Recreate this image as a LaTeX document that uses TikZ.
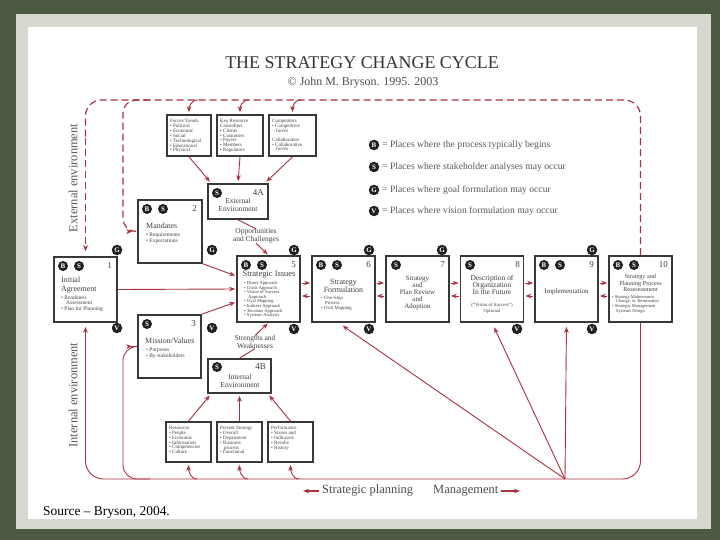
\documentclass[tikz,border=0pt]{standalone}
\usepackage{fontspec}
\setmainfont{Liberation Serif}
\usetikzlibrary{arrows.meta,calc}
\definecolor{cRed}{HTML}{A83240}
\definecolor{bgGreen}{HTML}{4C5A42}
\definecolor{frameGrey}{HTML}{D8D8D0}
\newcommand{\fs}[2]{\fontsize{#1}{#2}\selectfont}
\begin{document}
\begin{tikzpicture}[x=1bp,y=-1bp,
  box/.style={draw=black!78, line width=1.7bp, fill=white, inner sep=0pt},
  badge/.style={circle, fill=black!88, text=white, inner sep=0pt, minimum size=10bp, font=\fs{7}{7}\bfseries},
  gv/.style={badge, minimum size=10.5bp},
  num/.style={anchor=east, inner sep=0pt, font=\fs{9}{9}, text=black!75},
  head/.style={inner sep=0pt, align=center, text=black!75},
  list/.style={anchor=north west, inner sep=0pt, align=left, text=black!75},
  rl/.style={draw=cRed, line width=0.9bp},
  arr/.style={rl, -{Stealth[length=6bp,width=4.5bp]}},
  dl/.style={draw=cRed, line width=1.2bp, dash pattern=on 7bp off 4bp, -{Stealth[length=6bp,width=5bp]}},
  legtxt/.style={anchor=west, inner sep=0pt, font=\fs{9.7}{10}, text=black!65},
]
\useasboundingbox (0,0) rectangle (720,540);
\fill[bgGreen] (0,0) rectangle (720,540);
\fill[frameGrey] (16,14) rectangle (711,529);
\fill[white] (28,27) rectangle (697,519);

% title
\node[font=\fs{18}{18}, text=black!80] (title) at (362,63) {THE STRATEGY CHANGE CYCLE};
\node[font=\fs{12}{12}, text=black!70] (subt) at (363,83) {© John M. Bryson. 1995. 2003};

% side labels
\node[rotate=90, font=\fs{12.5}{13}, text=black!65] (ext) at (73,178) {External environment};
\node[rotate=90, font=\fs{12.5}{13}, text=black!65] (int) at (73,395) {Internal environment};

% boxes
\node[box, minimum width=63bp, minimum height=65bp] (b1) at (85.5,289.5) {};
\node[box, minimum width=64bp, minimum height=63bp] (b2) at (170,231.5) {};
\node[box, minimum width=63bp, minimum height=63bp] (b3) at (169.5,346.5) {};
\node[box, minimum width=60bp, minimum height=35bp] (b4a) at (238,201.5) {};
\node[box, minimum width=63bp, minimum height=34bp] (b4b) at (239.5,376) {};
\node[box, minimum width=63bp, minimum height=66bp] (b5) at (268.5,289) {};
\node[box, minimum width=63bp, minimum height=66bp] (b6) at (343.5,289) {};
\node[box, minimum width=63bp, minimum height=66bp] (b7) at (417.5,289) {};
\node[box, minimum width=63bp, minimum height=66bp] (b8) at (492,289) {};
\node[box, minimum width=63bp, minimum height=66bp] (b9) at (566.5,289) {};
\node[box, minimum width=63bp, minimum height=66bp] (b10) at (640.5,289) {};
\node[box, minimum width=44bp, minimum height=41bp] (tA) at (189,135.5) {};
\node[box, minimum width=46bp, minimum height=41bp] (tB) at (240,135.5) {};
\node[box, minimum width=47bp, minimum height=41bp] (tC) at (292.5,135.5) {};
\node[box, minimum width=45bp, minimum height=40bp] (bA) at (188.5,442) {};
\node[box, minimum width=45bp, minimum height=40bp] (bB) at (239.5,442) {};
\node[box, minimum width=45bp, minimum height=40bp] (bC) at (290.5,442) {};

% badges and numbers
\node[badge] (b1B) at (63,266) {B}; \node[badge] (b1S) at (79,266) {S}; \node[num] (b1n) at (112,266) {1};
\node[badge] (b2B) at (147,209) {B}; \node[badge] (b2S) at (163,209) {S}; \node[num] (b2n) at (197,209) {2};
\node[badge] (b3S) at (147,324) {S}; \node[num] (b3n) at (196,324) {3};
\node[badge] (b4aS) at (217,193) {S}; \node[num] (b4an) at (264,193) {4A};
\node[badge] (b4bS) at (217,367) {S}; \node[num] (b4bn) at (266,367) {4B};
\node[badge] (b5B) at (246,265) {B}; \node[badge] (b5S) at (262,265) {S}; \node[num] (b5n) at (296,265) {5};
\node[badge] (b6B) at (321,265) {B}; \node[badge] (b6S) at (337,265) {S}; \node[num] (b6n) at (371,265) {6};
\node[badge] (b7S) at (396,265) {S}; \node[num] (b7n) at (445,265) {7};
\node[badge] (b8S) at (470,265) {S}; \node[num] (b8n) at (520,265) {8};
\node[badge] (b9B) at (544,265) {B}; \node[badge] (b9S) at (560,265) {S}; \node[num] (b9n) at (594,265) {9};
\node[badge] (b10B) at (618,265) {B}; \node[badge] (b10S) at (634,265) {S}; \node[num] (b10n) at (668,265) {10};

% G and V badges
\node[gv] (g1) at (117,250) {G}; \node[gv] (g2) at (212,250) {G}; \node[gv] (g3) at (294,250) {G};
\node[gv] (g4) at (369,250) {G}; \node[gv] (g5) at (442,250) {G}; \node[gv] (g6) at (592,250) {G};
\node[gv] (v1) at (117,328) {V}; \node[gv] (v2) at (212,328) {V}; \node[gv] (v3) at (294,329) {V};
\node[gv] (v4) at (369,329) {V}; \node[gv] (v5) at (517,329) {V}; \node[gv] (v6) at (592,329) {V};

% legend
\node[gv] (lB) at (374,145) {B}; \node[legtxt] (lBt) at (382,145) {= Places where the process typically begins};
\node[gv] (lS) at (374,167) {S}; \node[legtxt] (lSt) at (382,167) {= Places where stakeholder analyses may occur};
\node[gv] (lG) at (374,190) {G}; \node[legtxt] (lGt) at (382,190) {= Places where goal formulation may occur};
\node[gv] (lV) at (374,211) {V}; \node[legtxt] (lVt) at (382,211) {= Places where vision formulation may occur};

% box texts
\node[list, font=\fs{8}{8.5}] (t1) at (61,277) {Initial\\Agreement};
\node[list, font=\fs{5.5}{5.6}] (t1b) at (61,295) {• Readiness\\\hspace*{5bp}Assessment\\• Plan for Planning};
\node[list, font=\fs{8}{8.5}] (t2) at (146,223) {Mandates};
\node[list, font=\fs{5.5}{5.8}] (t2b) at (146,233) {• Requirements\\• Expectations};
\node[list, font=\fs{8}{8.5}] (t3) at (145,338) {Mission/Values};
\node[list, font=\fs{5.5}{5.8}] (t3b) at (146,348) {• Purposes\\• By stakeholders};
\node[head, font=\fs{7.5}{7.5}] (t4a) at (238,205) {External\\Environment};
\node[head, font=\fs{7.5}{7.5}] (t4b) at (240,381) {Internal\\Environment};
\node[head, font=\fs{8.5}{8.5}] (t5) at (269,275) {Strategic Issues};
\node[list, font=\fs{4.6}{4.65}] (t5b) at (244,281) {• Direct Approach\\• Goals Approach\\• Vision of Success\\\hspace*{4bp}Approach\\• Oval Mapping\\• Indirect Approach\\• Tensions Approach\\• Systems Analysis};
\node[head, font=\fs{8}{7.8}] (t6) at (343.5,286) {Strategy\\Formulation};
\node[list, font=\fs{4.8}{5}] (t6b) at (321,296) {• Five-Step\\\hspace*{4bp}Process\\• Oval Mapping};
\node[head, font=\fs{7}{7.2}] (t7) at (417.5,293) {Strategy\\and\\Plan Review\\and\\Adoption};
\node[head, font=\fs{7.5}{7}] (t8) at (492,285) {Description of\\Organization\\In the Future};
\node[head, font=\fs{4.8}{5.8}] (t8b) at (492,308) {(“Vision of Success”)\\Optional};
\node[head, font=\fs{7}{7}] (t9) at (566.5,292) {Implementation};
\node[head, font=\fs{6.2}{6.5}] (t10) at (640.5,283) {Strategy and\\Planning Process\\Reassessment};
\node[list, font=\fs{4.5}{4.8}] (t10b) at (612,295) {• Strategy Maintenance,\\\hspace*{4bp}Change, or Termination\\• Strategic Management\\\hspace*{4bp}Systems Design};
\node[list, font=\fs{5}{4.9}] (ttA) at (170,119) {Forces/Trends\\• Political\\• Economic\\• Social\\• Technological\\• Educational\\• Physical};
\node[list, font=\fs{5}{4.9}] (ttB) at (220,119) {Key Resource\\Controllers\\• Clients\\• Customers\\• Payers\\• Members\\• Regulators};
\node[list, font=\fs{5}{4.9}] (ttC) at (272,119) {Competitors\\• Competitive\\\hspace*{4bp}forces\\[4bp]Collaborators\\• Collaborative\\\hspace*{4bp}forces};
\node[list, font=\fs{5}{4.9}] (tbA) at (169,426) {Resources\\• People\\• Economic\\• Information\\• Competencies\\• Culture};
\node[list, font=\fs{5}{4.9}] (tbB) at (220,426) {Present Strategy\\• Overall\\• Department\\• Business\\\hspace*{4bp}process\\• Functional};
\node[list, font=\fs{5}{4.9}] (tbC) at (271,426) {Performance\\• Scores and\\• Indicators\\• Results\\• History};

% labels between 4A/4B and 5
\node[head, font=\fs{7.5}{7.5}] (oc) at (256,236) {Opportunities\\and Challenges};
\node[head, font=\fs{7.5}{7.5}] (sw) at (255,342) {Strengths and\\Weaknesses};
\draw[rl] (b4a.south) -- (oc.north);
\draw[arr, shorten >=1bp] (oc.south) -- (b5.north);
\draw[rl] (b4b.north) -- (sw.south);
\draw[arr, shorten >=1bp] (sw.north) -- (b5.south);

% top boxes to 4A
\draw[arr, shorten >=2bp] (tA.south) -- ($(b4a.north west)+(4,0)$);
\draw[arr, shorten >=2bp] (tB.south) -- (b4a.north);
\draw[arr, shorten >=2bp] (tC.south) -- ($(b4a.north east)+(-4,0)$);
% bottom boxes to 4B
\draw[arr, shorten >=2bp] (bA.north) -- ($(b4b.south west)+(4,0)$);
\draw[arr, shorten >=2bp] (bB.north) -- (b4b.south);
\draw[arr, shorten >=2bp] (bC.north) -- ($(b4b.south east)+(-4,0)$);

% 1,2,3 to 5
\draw[arr, shorten >=1bp] (b1.east) -- (b5.west);
\draw[arr, shorten >=1bp] (b2.south east) -- ($(b5.west)+(0,-13)$);
\draw[arr, shorten >=1bp] (b3.north east) -- ($(b5.west)+(0,13)$);

% arrows between main boxes
\foreach \a/\b in {b5/b6,b6/b7,b7/b8,b8/b9,b9/b10}{
  \draw[arr] ($(\a.east)+(1,-6)$) -- ($(\b.west)+(-1,-6)$);
  \draw[arr] ($(\b.west)+(-1,7)$) -- ($(\a.east)+(1,7)$);
}

% external (dashed) loop
\coordinate (topR) at (640.5,100);
\coordinate (topL) at (85.5,100);
\draw[dl, -, rounded corners=16bp] (b10.north) -- (topR) -- (topL) -- ($(topL)+(0,40)$);
\draw[dl, shorten >=5bp] ($(topL)+(0,38)$) -- (b1.north);
\coordinate (iT0) at (150,100);
\coordinate (iT1) at (123,100);
\coordinate (iT2) at (123,231.5);
\draw[dl, rounded corners=13bp, shorten >=5bp] (iT0) -- (iT1) -- (iT2) -- (b2.west);
\coordinate (cA) at (198,100);
\coordinate (cB) at (249,100);
\coordinate (cC) at (301,100);
\draw[arr, shorten >=2bp] (cA) .. controls +(-7,0) and +(0,-7) .. (tA.north);
\draw[arr, shorten >=2bp] (cB) .. controls +(-7,0) and +(0,-7) .. (tB.north);
\draw[arr, shorten >=2bp] (cC) .. controls +(-7,0) and +(0,-7) .. (tC.north);

% internal (solid) loop
\coordinate (botR) at (640.5,479);
\coordinate (botL) at (85.5,479);
\draw[arr, rounded corners=18bp, shorten >=4bp] (b10.south) -- (botR) -- (botL) -- (b1.south);
\coordinate (iB0) at (150,479);
\coordinate (iB1) at (123,479);
\coordinate (iB2) at (123,346.5);
\draw[arr, rounded corners=14bp, shorten >=5bp] (iB0) -- (iB1) -- (iB2) -- (b3.west);
\coordinate (dA) at (197,479);
\coordinate (dB) at (248,479);
\coordinate (dC) at (299,479);
\draw[arr, shorten >=2bp] (dA) .. controls +(-7,0) and +(0,7) .. (bA.south);
\draw[arr, shorten >=2bp] (dB) .. controls +(-7,0) and +(0,7) .. (bB.south);
\draw[arr, shorten >=2bp] (dC) .. controls +(-7,0) and +(0,7) .. (bC.south);

% convergence
\coordinate (conv) at (565,479);
\draw[arr, shorten >=5bp] (conv) -- ($(b6.south)+(-5,0)$);
\draw[arr, shorten >=5bp] (conv) -- (b8.south);
\draw[arr, shorten >=4bp] (conv) -- (b9.south);

% bottom legend
\node[anchor=west, inner sep=0pt, font=\fs{12.5}{12.5}, text=black!70] (sp) at (322,491) {Strategic planning};
\node[anchor=west, inner sep=0pt, font=\fs{12.5}{12.5}, text=black!70] (mg) at (433,491) {Management};
\coordinate (spL) at (303,491);
\coordinate (mgR) at (520,491);
\draw[arr, line width=1.1bp, shorten <=3bp] (sp.west) -- (spL);
\draw[arr, line width=1.1bp, shorten <=3bp] (mg.east) -- (mgR);

% source
\node[anchor=west, inner sep=0pt, font=\fs{13.5}{13.5}, text=black] (src) at (43,512) {Source – Bryson, 2004.};
\end{tikzpicture}
\end{document}
